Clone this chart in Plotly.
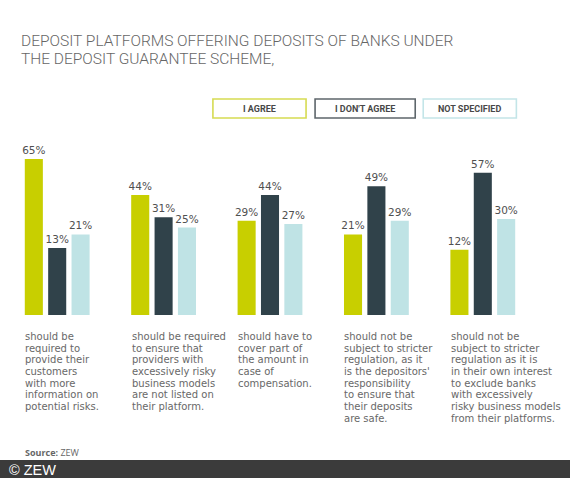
import plotly.graph_objects as go

# ---------------- data ----------------
categories = [
    ["should be", "required to", "provide their", "customers", "with more",
     "information on", "potential risks."],
    ["should be required", "to ensure that", "providers with", "excessively risky",
     "business models", "are not listed on", "their platform."],
    ["should have to", "cover part of", "the amount in", "case of", "compensation."],
    ["should not be", "subject to stricter", "regulation, as it", "is the depositors'",
     "responsibility", "to ensure that", "their deposits", "are safe."],
    ["should not be", "subject to stricter", "regulation as it is", "in their own interest",
     "to exclude banks", "with excessively", "risky business models", "from their platforms."],
]
series_names = ["I AGREE", "I DON'T AGREE", "NOT SPECIFIED"]
agree = [65, 44, 29, 21, 12]
dont_agree = [13, 31, 44, 49, 57]
not_specified = [21, 25, 27, 29, 30]
axis_floor = -26  # value at the visual baseline of the bars

title_lines = ["DEPOSIT PLATFORMS OFFERING DEPOSITS OF BANKS UNDER",
               "THE DEPOSIT GUARANTEE SCHEME,"]
source_text = "Source:"
source_name = "ZEW"
footer_text = "© ZEW"

# ---------------- style ----------------
colors = ["#c8cf00", "#30424a", "#bfe3e5"]
legend_borders = ["#d6db52", "#5d666b", "#c3e5e8"]
W, H = 570, 478
L, R, T, B = 4.4, 34.4, 150, 163
PW, PH = W - L - R, H - T - B

def px(x):
    return (x - L) / PW

def py(y):
    return (H - B - y) / PH

fig = go.Figure()
x_idx = list(range(len(categories)))
for name, vals, col in zip(series_names, [agree, dont_agree, not_specified], colors):
    fig.add_trace(go.Bar(
        x=x_idx,
        y=[v - axis_floor for v in vals],
        base=axis_floor,
        customdata=vals,
        texttemplate="%{customdata}%",
        textposition="outside",
        constraintext="none",
        textfont=dict(family="DejaVu Sans", size=10.5, color="#505050"),
        marker=dict(color=col, line=dict(width=0)),
        name=name,
        cliponaxis=False,
        hoverinfo="skip",
    ))

annotations = []
# title (one annotation per line)
for k, line in enumerate(title_lines):
    annotations.append(dict(
        text=line, xref="paper", yref="paper", x=px(20), y=py(41 + 18 * k),
        xanchor="left", yanchor="middle", align="left", showarrow=False, borderpad=0,
        font=dict(family="Roboto", size=15.5, color="#666666", weight=300),
    ))
# legend boxes
boxes = [(213, 306), (315, 415), (423, 516)]
shapes = []
for (x0, x1), name, bc in zip(boxes, series_names, legend_borders):
    shapes.append(dict(type="rect", xref="paper", yref="paper",
                       x0=px(x0), x1=px(x1), y0=py(118), y1=py(99),
                       line=dict(color=bc, width=1.6), fillcolor="white"))
    annotations.append(dict(
        text="<b>" + name + "</b>", xref="paper", yref="paper",
        x=px((x0 + x1) / 2), y=py(108.5), xanchor="center", yanchor="middle",
        showarrow=False, borderpad=0,
        font=dict(family="Roboto", size=9, color="#484848"),
    ))
# category descriptions (one annotation per line)
for i, lines in enumerate(categories):
    for k, line in enumerate(lines):
        annotations.append(dict(
            text=line, xref="x", yref="paper", x=i, xshift=-33, y=py(336.5 + 11.66 * k),
            xanchor="left", yanchor="middle", align="left", showarrow=False, borderpad=0,
            font=dict(family="DejaVu Sans", size=10, color="#686868"),
        ))
# source
annotations.append(dict(
    text="<b>" + source_text + "</b> " + source_name, xref="paper", yref="paper",
    x=px(24), y=py(452), xanchor="left", yanchor="middle", showarrow=False, borderpad=0,
    font=dict(family="Open Sans", size=9, color="#666666"),
))
# footer
shapes.append(dict(type="rect", xref="paper", yref="paper",
                   x0=px(0), x1=px(W), y0=py(H), y1=py(460),
                   line=dict(width=0), fillcolor="#3b3b3b", layer="below"))
annotations.append(dict(
    text=footer_text, xref="paper", yref="paper", x=px(8), y=py(469.5),
    xanchor="left", yanchor="middle", showarrow=False, borderpad=0,
    font=dict(family="Liberation Sans", size=14.5, color="white"),
))

fig.update_layout(
    width=W, height=H,
    margin=dict(l=L, r=R, t=T, b=B, pad=0),
    paper_bgcolor="white", plot_bgcolor="white",
    barmode="group", bargap=0.341, bargroupgap=0.227,
    showlegend=False,
    xaxis=dict(range=[-0.5, len(categories) - 0.5], visible=False, fixedrange=True),
    yaxis=dict(range=[axis_floor, axis_floor + PH / 1.715], visible=False, fixedrange=True),
    shapes=shapes, annotations=annotations,
)
fig.write_html(
    "out.html",
    config={"displayModeBar": False},
    post_script="document.body.style.margin='0';document.body.style.padding='0';"
                "document.documentElement.style.overflow='hidden';",
)
